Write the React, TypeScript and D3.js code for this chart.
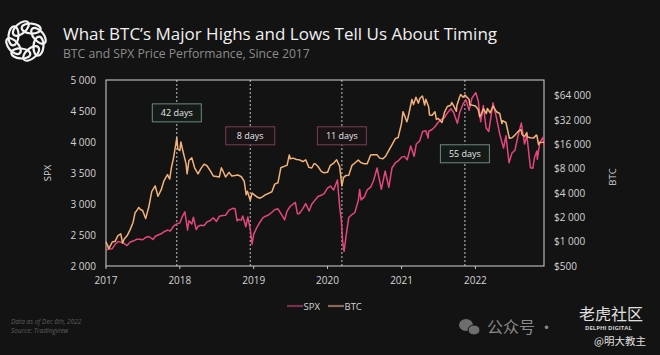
import React from "react";
import * as d3 from "d3";

// ---------- DATA ----------
const btcDates = [
  "2017-01-01","2017-01-15","2017-02-01","2017-02-15","2017-03-01","2017-03-15","2017-03-24","2017-04-01","2017-04-15","2017-05-01","2017-05-15","2017-05-25","2017-06-01","2017-06-12","2017-06-20","2017-07-01","2017-07-16","2017-08-01","2017-08-15","2017-09-01","2017-09-15","2017-10-01","2017-10-15","2017-11-01","2017-11-12","2017-11-20","2017-12-01","2017-12-17","2017-12-22","2018-01-01","2018-01-06","2018-01-15","2018-02-01","2018-02-06","2018-02-15","2018-03-01","2018-03-15","2018-04-01","2018-04-15","2018-05-01","2018-05-15","2018-06-01","2018-06-15","2018-07-01","2018-07-15","2018-07-25","2018-08-01","2018-08-15","2018-09-01","2018-09-15","2018-10-01","2018-10-15","2018-11-01","2018-11-15","2018-11-25","2018-12-01","2018-12-15","2018-12-24","2019-01-01","2019-01-15","2019-02-01","2019-02-15","2019-03-01","2019-03-15","2019-04-01","2019-04-15","2019-05-01","2019-05-15","2019-06-01","2019-06-15","2019-06-26","2019-07-01","2019-07-15","2019-08-01","2019-08-15","2019-09-01","2019-09-15","2019-10-01","2019-10-15","2019-10-26","2019-11-01","2019-11-15","2019-12-01","2019-12-15","2020-01-01","2020-01-15","2020-02-01","2020-02-15","2020-03-01","2020-03-12","2020-03-20","2020-04-01","2020-04-15","2020-05-01","2020-05-15","2020-06-01","2020-06-15","2020-07-01","2020-07-15","2020-08-01","2020-08-15","2020-09-01","2020-09-15","2020-10-01","2020-10-15","2020-11-01","2020-11-15","2020-12-01","2020-12-15","2021-01-01","2021-01-08","2021-01-15","2021-01-27","2021-02-01","2021-02-15","2021-02-21","2021-03-01","2021-03-13","2021-03-25","2021-04-01","2021-04-14","2021-04-25","2021-05-01","2021-05-15","2021-05-19","2021-06-01","2021-06-15","2021-06-22","2021-07-01","2021-07-20","2021-08-01","2021-08-15","2021-09-01","2021-09-06","2021-09-15","2021-09-29","2021-10-01","2021-10-15","2021-10-20","2021-11-01","2021-11-10","2021-11-15","2021-12-01","2021-12-04","2021-12-15","2022-01-01","2022-01-15","2022-01-22","2022-02-01","2022-02-10","2022-02-24","2022-03-01","2022-03-15","2022-03-29","2022-04-01","2022-04-15","2022-05-01","2022-05-12","2022-05-15","2022-06-01","2022-06-18","2022-07-01","2022-07-15","2022-08-01","2022-08-14","2022-08-20","2022-09-01","2022-09-12","2022-09-15","2022-10-01","2022-10-15","2022-10-29","2022-11-01","2022-11-09","2022-11-15","2022-12-01","2022-12-06"
];
const btcValues = [
  1000,820,990,1010,1190,1250,960,1080,1180,1420,1740,2300,2400,2650,2500,2430,1930,2720,4170,4900,3650,4400,5700,6750,5950,8200,10900,19300,14000,13400,17100,13600,9100,6900,10100,10900,8200,6900,8000,9100,8700,7500,6500,6400,6300,8200,7600,6300,7200,6500,6600,6700,6350,5600,3800,4200,3250,4000,3850,3600,3450,3600,3820,3950,4150,5150,5350,8200,8550,8800,11800,10600,10800,10400,10300,9800,10300,8300,8150,9200,9200,8500,7400,7100,7200,8800,9400,10300,8550,4900,6200,6600,6650,8800,9400,10200,9450,9200,9200,11800,11900,11900,10800,10600,11500,13800,15900,18800,19400,29300,40600,36800,30400,33500,48700,57500,49600,61200,51700,59000,63500,49000,57800,46400,37000,36600,40500,32500,33500,29800,39800,47000,48800,52700,48100,41000,48100,61500,66000,61300,65000,63600,57200,49400,48900,47700,43100,35000,38700,44000,38300,44400,39300,47400,46300,40500,38500,28900,31300,29800,19000,19300,20800,23300,24300,21100,20000,22400,19700,19300,19100,20800,20500,15900,16900,17000,17100
];

const spxDates = [
  "2017-01-01","2017-01-15","2017-02-01","2017-02-15","2017-03-01","2017-03-15","2017-04-01","2017-04-15","2017-05-01","2017-05-15","2017-06-01","2017-06-15","2017-07-01","2017-07-15","2017-08-01","2017-08-21","2017-09-01","2017-09-15","2017-10-01","2017-10-15","2017-11-01","2017-11-15","2017-12-01","2017-12-15","2018-01-01","2018-01-15","2018-01-26","2018-02-08","2018-02-15","2018-03-01","2018-03-09","2018-03-23","2018-04-01","2018-04-15","2018-05-01","2018-05-15","2018-06-01","2018-06-15","2018-07-01","2018-07-15","2018-08-01","2018-08-15","2018-09-01","2018-09-20","2018-10-01","2018-10-11","2018-10-15","2018-11-01","2018-11-08","2018-11-23","2018-12-03","2018-12-15","2018-12-24","2019-01-01","2019-01-15","2019-02-01","2019-02-15","2019-03-01","2019-03-15","2019-04-01","2019-04-15","2019-05-01","2019-05-15","2019-06-03","2019-06-15","2019-07-01","2019-07-26","2019-08-05","2019-08-15","2019-09-01","2019-09-15","2019-10-02","2019-10-15","2019-11-01","2019-11-15","2019-12-01","2019-12-15","2020-01-01","2020-01-15","2020-01-31","2020-02-19","2020-03-01","2020-03-09","2020-03-16","2020-03-23","2020-04-01","2020-04-15","2020-05-01","2020-05-15","2020-06-01","2020-06-08","2020-06-15","2020-07-01","2020-07-15","2020-08-01","2020-08-15","2020-09-02","2020-09-23","2020-10-12","2020-10-30","2020-11-15","2020-12-01","2020-12-15","2021-01-01","2021-01-15","2021-01-29","2021-02-15","2021-03-04","2021-03-15","2021-04-01","2021-04-15","2021-05-01","2021-05-12","2021-05-15","2021-06-01","2021-06-15","2021-07-01","2021-07-15","2021-08-01","2021-08-15","2021-09-02","2021-09-15","2021-10-04","2021-10-15","2021-11-01","2021-11-15","2021-12-01","2021-12-15","2022-01-03","2022-01-15","2022-01-27","2022-02-09","2022-02-23","2022-03-08","2022-03-29","2022-04-15","2022-05-01","2022-05-20","2022-06-01","2022-06-16","2022-07-01","2022-07-15","2022-08-01","2022-08-16","2022-09-01","2022-09-12","2022-09-30","2022-10-12","2022-10-20","2022-11-01","2022-11-03","2022-11-15","2022-12-01","2022-12-06"
];
const spxValues = [
  2257,2275,2280,2350,2395,2385,2362,2330,2388,2402,2430,2433,2423,2459,2476,2428,2476,2500,2519,2553,2579,2564,2642,2675,2695,2810,2873,2581,2731,2677,2786,2588,2640,2656,2654,2711,2734,2779,2718,2801,2813,2818,2901,2930,2924,2728,2750,2740,2806,2632,2790,2600,2351,2510,2610,2706,2775,2803,2822,2867,2907,2923,2850,2744,2886,2964,3025,2844,2847,2926,3007,2887,2995,3066,3120,3140,3168,3257,3289,3225,3386,2954,2746,2386,2237,2470,2783,2830,2863,3055,3232,3066,3115,3227,3271,3372,3580,3237,3534,3270,3585,3662,3694,3756,3768,3714,3934,3768,3968,4019,4170,4181,4063,4173,4202,4246,4319,4360,4395,4468,4537,4480,4300,4471,4613,4682,4513,4709,4796,4662,4326,4587,4225,4170,4631,4392,4131,3901,4101,3666,3825,3863,4118,4305,3966,4110,3585,3577,3750,3856,3720,3991,4076,3941
];

const spxTicks = [2000, 2500, 3000, 3500, 4000, 4500, 5000];
const btcTicks = [500, 1000, 2000, 4000, 8000, 16000, 32000, 64000];
const yearTicks = ["2017", "2018", "2019", "2020", "2021", "2022"];

const eventLabels = ["42 days", "8 days", "11 days", "55 days"];
const eventDates = ["2017-12-17", "2018-12-15", "2020-03-12", "2021-11-10"];
const eventLabelSpx = [4470, 4100, 4100, 3810];
const eventKinds = ["high", "low", "low", "high"];

const seriesNames = ["SPX", "BTC"];

// ---------- STYLE ----------
const W = 660, H = 355;
const M = { left: 106, right: 544, top: 80, bottom: 266 };
const BG = "#131313";
const SPX_COLOR = "#e4467e";
const BTC_COLOR = "#f3b27a";
const FONT = "'Open Sans', 'DejaVu Sans', sans-serif";
const CJK = "'Noto Sans CJK SC', sans-serif";

const parse = d3.timeParse("%Y-%m-%d");

export default function App() {
  const x = d3.scaleTime()
    .domain([parse("2017-01-01")!, parse("2022-12-06")!])
    .range([M.left, M.right]);
  const ySpx = d3.scaleLinear().domain([2000, 5000]).range([M.bottom, M.top]);
  const yBtc = d3.scaleLog().base(2).domain([500, 100000]).range([M.bottom, M.top]);

  const spxData = spxDates.map((d, i) => ({ d: parse(d)!, v: spxValues[i] }));
  const btcData = btcDates.map((d, i) => ({ d: parse(d)!, v: btcValues[i] }));

  const spxLine = d3.line<{ d: Date; v: number }>().x(p => x(p.d)).y(p => ySpx(p.v));
  const btcLine = d3.line<{ d: Date; v: number }>().x(p => x(p.d)).y(p => yBtc(p.v));

  const fmtSpace = (n: number) => d3.format(",")(n).replace(/,/g, " ");

  const loops = d3.range(8);

  return (
    <svg width={W} height={H} style={{ position: "absolute", left: 0, top: 0, background: BG }} fontFamily={FONT}>
      <rect x={0} y={0} width={W} height={H} fill={BG} />

      {/* logo */}
      <g transform="translate(26,41)">
        {loops.map(i => {
          const a = (i * 360) / 8 + 22.5;
          return (
            <ellipse key={i} cx={0} cy={-13.5} rx={9.5} ry={5}
              transform={`rotate(${a}) rotate(-18 0 -13.5)`} fill="none" stroke="#f2f2f2" strokeWidth={2.2} />
          );
        })}
      </g>

      {/* titles */}
      <text x={63} y={40} fill="#f0f0f0" fontSize={17}>What BTC’s Major Highs and Lows Tell Us About Timing</text>
      <text x={63} y={58} fill="#8c8c8c" fontSize={12.2}>BTC and SPX Price Performance, Since 2017</text>

      {/* frame */}
      <rect x={M.left} y={M.top} width={M.right - M.left} height={M.bottom - M.top}
        fill="none" stroke="#c4c4c4" strokeWidth={1.1} />

      {/* event dashed lines */}
      {eventDates.map((d, i) => (
        <line key={"ev" + i} x1={x(parse(d)!)} x2={x(parse(d)!)} y1={M.top} y2={M.bottom}
          stroke="#d8d8d8" strokeWidth={0.9} strokeDasharray="2,2" />
      ))}

      {/* lines */}
      <path d={spxLine(spxData)!} fill="none" stroke={SPX_COLOR} strokeWidth={1.5} strokeLinejoin="round" />
      <path d={btcLine(btcData)!} fill="none" stroke={BTC_COLOR} strokeWidth={1.5} strokeLinejoin="round" />

      {/* event labels */}
      {eventLabels.map((lab, i) => {
        const cx = x(parse(eventDates[i])!);
        const cy = ySpx(eventLabelSpx[i]);
        const hi = eventKinds[i] === "high";
        return (
          <g key={"lab" + i}>
            <rect x={cx - 24.5} y={cy - 9} width={49} height={18}
              fill={hi ? "#141a17" : "#1a1316"} stroke={hi ? "#6f8a7e" : "#7a3e55"} strokeWidth={1} />
            <text x={cx} y={cy + 3.2} textAnchor="middle" fill="#e6e6e6" fontSize={9}>{lab}</text>
          </g>
        );
      })}

      {/* left axis */}
      {spxTicks.map(t => (
        <text key={"s" + t} x={96} y={ySpx(t) + 3.5} textAnchor="end" fill="#d4d4d4" fontSize={10}>{fmtSpace(t)}</text>
      ))}
      <text transform={`translate(51,173) rotate(-90)`} textAnchor="middle" fill="#d4d4d4" fontSize={9.5}>SPX</text>

      {/* right axis */}
      {btcTicks.map(t => (
        <text key={"b" + t} x={554} y={yBtc(t) + 3.5} textAnchor="start" fill="#d4d4d4" fontSize={10}>{"$" + fmtSpace(t)}</text>
      ))}
      <text transform={`translate(616,177) rotate(-90)`} textAnchor="middle" fill="#d4d4d4" fontSize={9.5}>BTC</text>

      {/* x axis */}
      {yearTicks.map(yr => {
        const px = x(parse(yr + "-01-01")!);
        return (
          <g key={"y" + yr}>
            <line x1={px} x2={px} y1={M.bottom} y2={M.bottom + 3} stroke="#c4c4c4" strokeWidth={1} />
            <text x={px} y={284} textAnchor="middle" fill="#d4d4d4" fontSize={10}>{yr}</text>
          </g>
        );
      })}

      {/* legend */}
      {seriesNames.map((n, i) => {
        const lx = 287 + i * 41;
        return (
          <g key={"lg" + n}>
            <line x1={lx} x2={lx + 16} y1={306} y2={306} stroke={i === 0 ? "#7a2f4a" : "#8a6a55"} strokeWidth={2.2} />
            <text x={lx + 16.5} y={309.5} fill="#d4d4d4" fontSize={9.5}>{n}</text>
          </g>
        );
      })}

      {/* footnote */}
      <text x={11} y={324} fill="#5e5e5e" fontSize={6.5} fontStyle="italic">Data as of Dec 6th, 2022</text>
      <text x={11} y={333} fill="#5e5e5e" fontSize={6.5} fontStyle="italic">Source: Tradingview</text>

      {/* watermark */}
      <g fill="#6e6e6e">
        <ellipse cx={466} cy={325} rx={7} ry={6} />
        <ellipse cx={474} cy={330} rx={6} ry={5} stroke={BG} strokeWidth={1} />
      </g>
      <text x={487} y={333} fill="#8a8a8a" fontSize={16} fontFamily={CJK}>公众号 ·</text>
      <text x={579} y={320} fill="#e0e0e0" fontSize={16} fontFamily={CJK}>老虎社区</text>
      <text x={585} y={330} fill="#cfcfcf" fontSize={6} fontWeight="bold">DELPHI DIGITAL</text>
      <text x={594} y={345} fill="#e0e0e0" fontSize={10.5} fontFamily={CJK}>@明大教主</text>
    </svg>
  );
}
